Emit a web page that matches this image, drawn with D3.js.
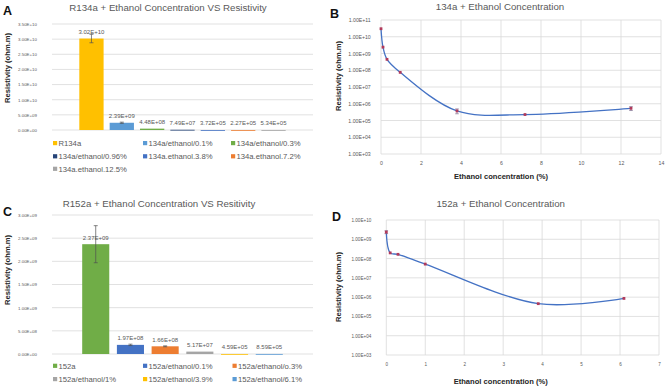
<!DOCTYPE html>
<html>
<head>
<meta charset="utf-8">
<script src="https://cdn.jsdelivr.net/npm/d3@7"></script>
<style>
  body { margin: 0; background: #fff; }
  svg { display: block; font-family: "Liberation Sans", Arial, sans-serif; }
</style>
</head>
<body>
<script>
// --- data ---
const r134Names = ["R134a", "134a/ethanol/0.1%", "134a/ethanol/0.3%", "134a/ethanol/0.96%",
  "134a.ethanol.3.8%", "134a.ethanol.7.2%", "134a.ethanol.12.5%"];
const r134Conc = [0, 0.1, 0.3, 0.96, 3.8, 7.2, 12.5];
const r134Values = [3.02e10, 2.39e9, 4.48e8, 7.49e7, 3.72e5, 2.27e5, 5.34e5];
const r134Errors = [1.4e9, 2.0e8, 3.0e7, 5.0e6, 1.2e5, 2.0e4, 1.4e5];
const r134Colors = ["#FFC000", "#5B9BD5", "#70AD47", "#264478", "#4472C4", "#ED7D31", "#A5A5A5"];

const r152Names = ["152a", "152a/ethanol/0.1%", "152a/ethanol/o.3%", "152a/ethanol/1%",
  "152a/ethanol/3.9%", "152a/ethanol/6.1%"];
const r152Conc = [0, 0.1, 0.3, 1, 3.9, 6.1];
const r152Values = [2.37e9, 1.97e8, 1.66e8, 5.17e7, 4.59e5, 8.59e5];
const r152Errors = [4.0e8, 1.5e7, 1.0e7, 4.0e6, 3.0e4, 5.0e4];
const r152Colors = ["#70AD47", "#4472C4", "#ED7D31", "#A5A5A5", "#FFC000", "#5B9BD5"];

const ticksA = [0, 5e9, 1e10, 1.5e10, 2e10, 2.5e10, 3e10, 3.5e10];
const ticksC = [0, 5e8, 1e9, 1.5e9, 2e9, 2.5e9, 3e9];
const logTicksB = [1e3, 1e4, 1e5, 1e6, 1e7, 1e8, 1e9, 1e10, 1e11];
const logTicksD = [1e3, 1e4, 1e5, 1e6, 1e7, 1e8, 1e9, 1e10];
const xTicksB = [0, 2, 4, 6, 8, 10, 12, 14];
const xTicksD = [0, 1, 2, 3, 4, 5, 6, 7];

const GRID = "#D9D9D9", TXT = "#595959";

// 3.02E+10 style
const sci = v => {
  const [m, e] = v.toExponential(2).split("e");
  const n = +e;
  return m + "E" + (n < 0 ? "-" : "+") + String(Math.abs(n)).padStart(2, "0");
};

const svg = d3.select("body").append("svg")
  .attr("width", 668)
  .attr("height", 387);

const drawBars = (g, o) => {
  const y = d3.scaleLinear().domain(o.yDomain).range(o.yRange);
  const x = d3.scaleBand().domain(o.names).range(o.xRange)
    .paddingInner(o.padIn).paddingOuter(o.padOut);

  g.append("g").call(d3.axisLeft(y).tickValues(o.ticks).tickFormat(sci).tickSize(0).tickPadding(0))
    .attr("transform", `translate(${o.labelX},0)`)
    .call(a => a.select(".domain").remove())
    .call(a => a.selectAll("text").attr("fill", TXT).attr("font-size", o.tickFont)
      .attr("font-family", "Liberation Sans, Arial, sans-serif"));

  g.append("g").selectAll("line")
    .data(o.ticks)
    .join("line")
      .attr("x1", o.xRange[0]).attr("x2", o.xRange[1])
      .attr("y1", d => y(d)).attr("y2", d => y(d))
      .attr("stroke", GRID).attr("stroke-width", 0.8);

  const data = o.names.map((n, i) => ({ n, v: o.values[i], e: o.errors[i], c: o.colors[i] }));

  g.append("g").selectAll("rect")
    .data(data)
    .join("rect")
      .attr("x", d => x(d.n))
      .attr("y", d => y(d.v))
      .attr("width", x.bandwidth())
      .attr("height", d => Math.max(0.8, y(0) - y(d.v)))
      .attr("fill", d => d.c);

  const eb = g.append("g").attr("stroke", "#505050").attr("stroke-width", 0.7);
  data.forEach(d => {
    const cx = x(d.n) + x.bandwidth() / 2;
    const y1 = y(d.v + d.e), y2 = y(Math.max(0, d.v - d.e));
    if (y2 - y1 < 0.6) return;
    eb.append("line").attr("x1", cx).attr("x2", cx).attr("y1", y1).attr("y2", y2);
    eb.append("line").attr("x1", cx - 2).attr("x2", cx + 2).attr("y1", y1).attr("y2", y1);
    eb.append("line").attr("x1", cx - 2).attr("x2", cx + 2).attr("y1", y2).attr("y2", y2);
  });

  g.append("g").selectAll("text")
    .data(data)
    .join("text")
      .attr("x", d => x(d.n) + x.bandwidth() / 2)
      .attr("y", d => y(d.v) - 4.5)
      .attr("text-anchor", "middle")
      .attr("font-size", 6)
      .attr("fill", TXT)
      .text(d => sci(d.v));

  // legend, 3 per row
  const lg = g.append("g").selectAll("g")
    .data(data)
    .join("g")
      .attr("transform", (d, i) => `translate(${o.legendCols[i % 3]},${o.legendRows[Math.floor(i / 3)]})`);
  lg.append("rect").attr("x", 0).attr("y", -2.3).attr("width", 4.2).attr("height", 4.2).attr("fill", d => d.c);
  lg.append("text").attr("x", 5.5).attr("y", 2.7).attr("font-size", 7.7).attr("fill", TXT).text(d => d.n);
};

const drawLine = (g, o) => {
  const x = d3.scaleLinear().domain(o.xDomain).range(o.xRange);
  const y = d3.scaleLog().domain(o.yDomain).range(o.yRange);

  const grid = g.append("g").attr("stroke", GRID).attr("stroke-width", 0.8);
  grid.selectAll(".h").data(o.yTicks).join("line").attr("class", "h")
    .attr("x1", o.xRange[0]).attr("x2", o.xRange[1])
    .attr("y1", d => y(d)).attr("y2", d => y(d));
  grid.selectAll(".v").data(o.xTicks).join("line").attr("class", "v")
    .attr("x1", d => x(d)).attr("x2", d => x(d))
    .attr("y1", o.yRange[0]).attr("y2", o.yRange[1]);

  g.append("g").call(d3.axisLeft(y).tickValues(o.yTicks).tickFormat(sci).tickSize(0).tickPadding(0))
    .attr("transform", `translate(${o.labelX},0)`)
    .call(a => a.select(".domain").remove())
    .call(a => a.selectAll("text").attr("fill", TXT).attr("font-size", o.tickFont)
      .attr("font-family", "Liberation Sans, Arial, sans-serif"));

  g.append("g").call(d3.axisBottom(x).tickValues(o.xTicks).tickFormat(d3.format("d")).tickSize(0).tickPadding(0))
    .attr("transform", `translate(0,${o.xLabelY})`)
    .call(a => a.select(".domain").remove())
    .call(a => a.selectAll("text").attr("fill", TXT).attr("font-size", o.tickFont)
      .attr("font-family", "Liberation Sans, Arial, sans-serif"));

  const pts = o.conc.map((c, i) => ({ c, v: o.values[i], e: o.errors[i] }));

  g.append("path")
    .datum(pts)
    .attr("fill", "none")
    .attr("stroke", "#4472C4")
    .attr("stroke-width", 1.3)
    .attr("d", d3.line().x(d => x(d.c)).y(d => y(d.v)).curve(d3.curveCatmullRom));

  const eb = g.append("g").attr("stroke", "#7F6F8F").attr("stroke-width", 0.7);
  pts.forEach(d => {
    const cx = x(d.c), y1 = y(d.v + d.e), y2 = y(d.v - d.e);
    if (y2 - y1 < 2) return;
    eb.append("line").attr("x1", cx).attr("x2", cx).attr("y1", y1).attr("y2", y2);
    eb.append("line").attr("x1", cx - 1.8).attr("x2", cx + 1.8).attr("y1", y1).attr("y2", y1);
    eb.append("line").attr("x1", cx - 1.8).attr("x2", cx + 1.8).attr("y1", y2).attr("y2", y2);
  });

  g.append("g").selectAll("rect")
    .data(pts)
    .join("rect")
      .attr("x", d => x(d.c) - 1.4)
      .attr("y", d => y(d.v) - 1.4)
      .attr("width", 2.8).attr("height", 2.8)
      .attr("fill", "#B03A5B");
};

const title = (x, y, t) => svg.append("text").attr("x", x).attr("y", y)
  .attr("text-anchor", "middle").attr("font-size", 9.7).attr("fill", TXT).text(t);
const letter = (x, y, t) => svg.append("text").attr("x", x).attr("y", y)
  .attr("font-size", 12.5).attr("font-weight", "bold").attr("fill", "#111").text(t);
const yTitle = (x, y, t) => svg.append("text")
  .attr("transform", `translate(${x},${y}) rotate(-90)`)
  .attr("text-anchor", "middle").attr("font-size", 7.6).attr("font-weight", "bold")
  .attr("fill", "#262626").text(t);
const xTitle = (x, y, t) => svg.append("text").attr("x", x).attr("y", y)
  .attr("text-anchor", "middle").attr("font-size", 7.6).attr("font-weight", "bold")
  .attr("fill", "#262626").text(t);

// A
drawBars(svg.append("g"), {
  names: r134Names, values: r134Values, errors: r134Errors, colors: r134Colors,
  yDomain: [0, 3.5e10], yRange: [130, 24], ticks: ticksA,
  xRange: [52, 313], padIn: 0.2, padOut: 0.9, labelX: 37, tickFont: 4.4,
  legendCols: [53, 143, 231], legendRows: [143.3, 156.5, 169]
});
letter(3, 15, "A");
title(168, 10.5, "R134a + Ethanol Concentration VS Resistivity");
yTitle(9.5, 68, "Resistivity (ohm.m)");

// C
drawBars(svg.append("g"), {
  names: r152Names, values: r152Values, errors: r152Errors, colors: r152Colors,
  yDomain: [0, 3e9], yRange: [354, 215], ticks: ticksC,
  xRange: [52, 313], padIn: 0.22, padOut: 0.87, labelX: 37, tickFont: 4.4,
  legendCols: [53, 143, 232.5], legendRows: [366, 379.3]
});
letter(3, 216, "C");
title(159, 206.5, "R152a + Ethanol Concentration VS Resitivity");
yTitle(9.5, 270, "Resistivity (ohm.m)");

// B
drawLine(svg.append("g"), {
  conc: r134Conc, values: r134Values, errors: r134Errors,
  xDomain: [0, 14], xRange: [381, 661], xTicks: xTicksB, xLabelY: 161.5,
  yDomain: [1e3, 1e11], yRange: [154, 20], yTicks: logTicksB,
  labelX: 370.7, tickFont: 5.2
});
letter(330, 18, "B");
title(500, 9.5, "134a + Ethanol Concentration");
xTitle(501, 179, "Ethanol concentration (%)");
yTitle(341, 76, "Resistivity (ohm.m)");

// D
drawLine(svg.append("g"), {
  conc: r152Conc, values: r152Values, errors: r152Errors,
  xDomain: [0, 7], xRange: [386.3, 659], xTicks: xTicksD, xLabelY: 363,
  yDomain: [1e3, 1e10], yRange: [355, 220], yTicks: logTicksD,
  labelX: 371.3, tickFont: 4.6
});
letter(332, 221, "D");
title(500.7, 206.5, "152a + Ethanol Concentration");
xTitle(500.7, 384, "Ethanol concentration (%)");
yTitle(341, 287, "Resistivity (ohm.m)");
</script>
</body>
</html>
